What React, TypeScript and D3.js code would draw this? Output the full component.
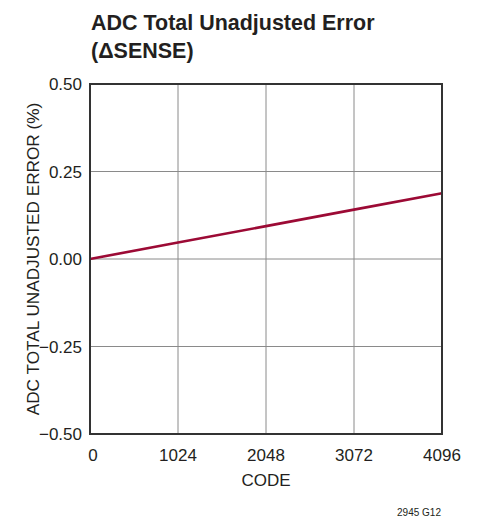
import React, { useEffect, useRef } from "react"
import * as d3 from "d3"

// chart data
const codes = [0, 1024, 2048, 3072, 4096]
const errorPct = [0, 0.047, 0.094, 0.141, 0.188]
const xTicks = [0, 1024, 2048, 3072, 4096]
const yTicks = [-0.5, -0.25, 0, 0.25, 0.5]
const titleLines = ["ADC Total Unadjusted Error", "(\u0394SENSE)"]

const FONT = "'Liberation Sans Narrow', 'Arial Narrow', 'Liberation Sans', sans-serif"

export default function App() {
  const ref = useRef<SVGSVGElement>(null)

  useEffect(() => {
    const svg = d3.select(ref.current)
    svg.selectAll("*").remove()

    const margin = { top: 84, left: 90, right: 35, bottom: 89 }
    const width = 477 - margin.left - margin.right
    const height = 523 - margin.top - margin.bottom

    const x = d3.scaleLinear().domain([0, 4096]).range([0, width])
    const y = d3.scaleLinear().domain([-0.5, 0.5]).range([height, 0])

    // title, squeezed a bit to look like the condensed face
    svg.selectAll(".title").data(titleLines).enter().append("text")
      .attr("transform", (d, i) => `translate(91,${30 + i * 27.5}) scale(0.955,1)`)
      .attr("font-family", FONT).attr("font-weight", "bold").attr("font-size", 22.5)
      .attr("fill", "#231f20")
      .text(d => d)

    const g = svg.append("g").attr("transform", `translate(${margin.left},${margin.top})`)

    // grid
    g.selectAll(".vgrid").data(xTicks.slice(1, -1)).enter().append("line")
      .attr("x1", d => x(d)).attr("x2", d => x(d))
      .attr("y1", 0).attr("y2", height)
      .attr("stroke", "#8a8a8a").attr("stroke-width", 1)
    g.selectAll(".hgrid").data(yTicks.slice(1, -1)).enter().append("line")
      .attr("x1", 0).attr("x2", width)
      .attr("y1", d => y(d)).attr("y2", d => y(d))
      .attr("stroke", "#8a8a8a").attr("stroke-width", 1)

    // data line
    const line = d3.line<number>()
      .x((d, i) => x(codes[i]))
      .y(d => y(d))
    g.append("path")
      .datum(errorPct)
      .attr("d", line)
      .attr("fill", "none")
      .attr("stroke", "#9c0a35")
      .attr("stroke-width", 2.6)

    // frame
    g.append("rect")
      .attr("x", 0).attr("y", 0).attr("width", width).attr("height", height)
      .attr("fill", "none").attr("stroke", "#333").attr("stroke-width", 2)

    // tick labels
    g.selectAll(".ylab").data(yTicks).enter().append("text")
      .attr("x", -8).attr("y", d => y(d) + 6)
      .attr("text-anchor", "end")
      .attr("font-family", FONT).attr("font-size", 17).attr("fill", "#231f20")
      .text(d => d3.format(".2f")(d).replace("-", "\u2013"))
    g.selectAll(".xlab").data(xTicks).enter().append("text")
      .attr("x", d => x(d) + (d === 0 ? 3 : 0)).attr("y", height + 27)
      .attr("text-anchor", "middle")
      .attr("font-family", FONT).attr("font-size", 17).attr("fill", "#231f20")
      .text(d => String(d))

    // axis titles
    g.append("text")
      .attr("x", width / 2).attr("y", height + 52)
      .attr("text-anchor", "middle")
      .attr("font-family", FONT).attr("font-size", 17).attr("fill", "#231f20")
      .text("CODE")
    g.append("text")
      .attr("transform", `translate(${39 - margin.left},${y(0)}) rotate(-90)`)
      .attr("text-anchor", "middle")
      .attr("font-family", FONT).attr("font-size", 17.2).attr("fill", "#231f20")
      .text("ADC TOTAL UNADJUSTED ERROR (%)")

    svg.append("text")
      .attr("x", 441).attr("y", 516)
      .attr("text-anchor", "end")
      .attr("font-family", FONT).attr("font-size", 10).attr("fill", "#231f20")
      .text("2945 G12")
  }, [])

  return (
    <svg ref={ref} width={477} height={523} style={{ position: "absolute", left: 0, top: 0, background: "#fff" }} />
  )
}
